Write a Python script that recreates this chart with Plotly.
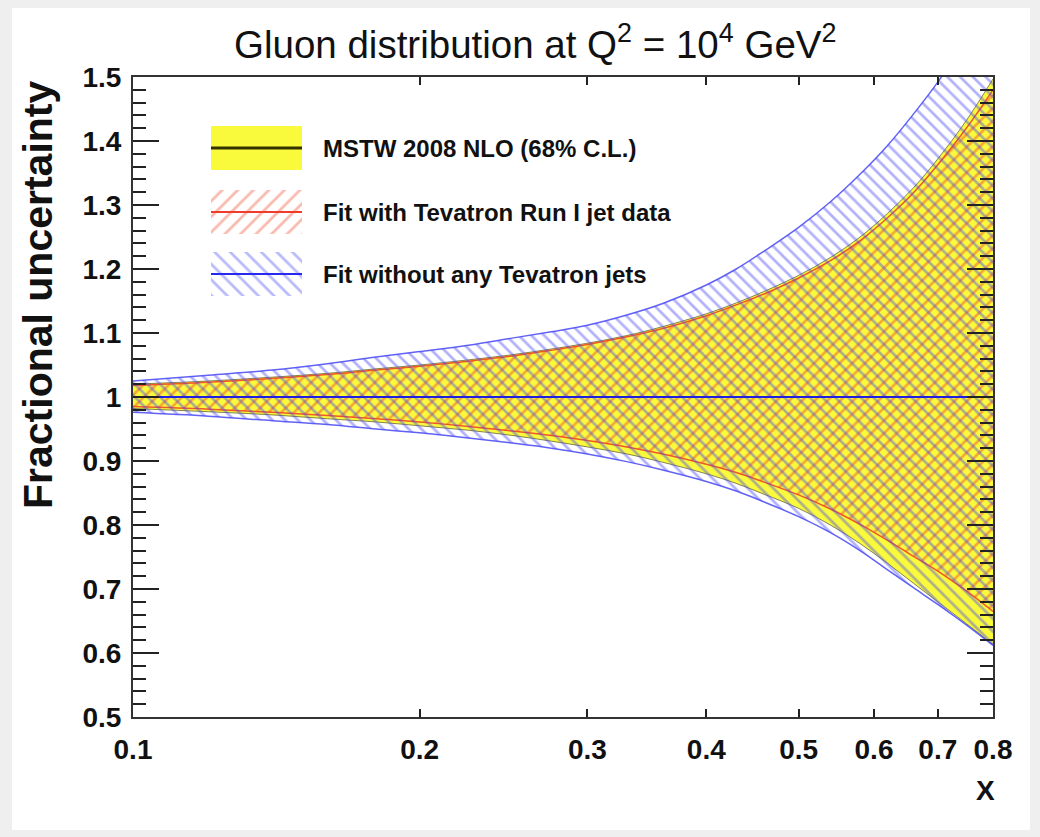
import plotly.graph_objects as go

# ---------------- data ----------------
x_vals = [0.10, 0.12, 0.14, 0.16, 0.18, 0.20, 0.225, 0.25, 0.275, 0.30, 0.33, 0.36,
          0.40, 0.43, 0.46, 0.50, 0.54, 0.58, 0.62, 0.66, 0.70, 0.75, 0.80]

mstw_upper = [1.020, 1.025, 1.031, 1.037, 1.044, 1.050, 1.058, 1.066, 1.075, 1.084, 1.096, 1.110,
              1.130, 1.147, 1.165, 1.190, 1.218, 1.250, 1.287, 1.327, 1.372, 1.432, 1.497]
mstw_lower = [0.982, 0.977, 0.972, 0.966, 0.961, 0.955, 0.948, 0.940, 0.931, 0.922, 0.911, 0.898,
              0.880, 0.865, 0.848, 0.826, 0.800, 0.771, 0.740, 0.709, 0.680, 0.646, 0.613]
mstw_central = [1.0, 1.0, 1.0, 1.0, 1.0, 1.0, 1.0, 1.0, 1.0, 1.0, 1.0, 1.0,
                1.0, 1.0, 1.0, 1.0, 1.0, 1.0, 1.0, 1.0, 1.0, 1.0, 1.0]

run1_upper = [1.018, 1.023, 1.029, 1.035, 1.042, 1.048, 1.056, 1.064, 1.073, 1.082, 1.094, 1.107,
              1.127, 1.144, 1.161, 1.186, 1.213, 1.244, 1.280, 1.319, 1.363, 1.420, 1.480]
run1_lower = [0.985, 0.981, 0.976, 0.971, 0.966, 0.961, 0.954, 0.947, 0.940, 0.932, 0.922, 0.911,
              0.895, 0.882, 0.867, 0.847, 0.825, 0.801, 0.776, 0.751, 0.728, 0.697, 0.665]
run1_central = [1.0, 1.0, 1.0, 1.0, 1.0, 1.0, 1.0, 1.0, 1.0, 1.0, 1.0, 1.0,
                1.0, 1.0, 1.0, 1.0, 1.0, 1.0, 1.0, 1.0, 1.0, 1.0, 1.0]

notev_upper = [1.025, 1.034, 1.042, 1.052, 1.0625, 1.071, 1.081, 1.092, 1.102, 1.112, 1.128, 1.146,
               1.175, 1.200, 1.228, 1.265, 1.305, 1.348, 1.393, 1.442, 1.492, 1.558, 1.628]
notev_lower = [0.976, 0.970, 0.963, 0.957, 0.950, 0.944, 0.936, 0.928, 0.920, 0.911, 0.899, 0.886,
               0.868, 0.853, 0.836, 0.813, 0.788, 0.760, 0.730, 0.702, 0.676, 0.644, 0.612]
notev_central = [1.0, 1.0, 1.0, 1.0, 1.0, 1.0, 1.0, 1.0, 1.0, 1.0, 1.0, 1.0,
                 1.0, 1.0, 1.0, 1.0, 1.0, 1.0, 1.0, 1.0, 1.0, 1.0, 1.0]

x_tick_vals = [0.1, 0.2, 0.3, 0.4, 0.5, 0.6, 0.7, 0.8]
x_tick_text = ["0.1", "0.2", "0.3", "0.4", "0.5", "0.6", "0.7", "0.8"]
y_tick_vals = [0.5, 0.6, 0.7, 0.8, 0.9, 1.0, 1.1, 1.2, 1.3, 1.4, 1.5]
y_tick_text = ["0.5", "0.6", "0.7", "0.8", "0.9", "1", "1.1", "1.2", "1.3", "1.4", "1.5"]

legend_labels = ["MSTW 2008 NLO (68% C.L.)", "Fit with Tevatron Run I jet data", "Fit without any Tevatron jets"]

# ---------------- styling ----------------
W, H = 1040, 837
L, R, T, B = 133, 993, 77, 717  # plot area in pixels
YELLOW = "#fafa3c"
RED = "rgba(240,70,40,0.9)"
BLUE = "rgba(70,70,245,0.85)"
FONT = "Liberation Sans"

fig = go.Figure()

# MSTW yellow band
fig.add_trace(go.Scatter(x=x_vals, y=mstw_lower, mode="lines", line_shape="spline",
                         line=dict(color="rgba(80,80,40,0.7)", width=1), showlegend=False, hoverinfo="skip"))
fig.add_trace(go.Scatter(x=x_vals, y=mstw_upper, mode="lines", fill="tonexty", fillcolor=YELLOW, line_shape="spline",
                         line=dict(color="rgba(80,80,40,0.7)", width=1), showlegend=False, hoverinfo="skip"))
fig.add_trace(go.Scatter(x=x_vals, y=mstw_central, mode="lines",
                         line=dict(color="#222200", width=2), showlegend=False, hoverinfo="skip"))

# Run I red hatched band
fig.add_trace(go.Scatter(x=x_vals, y=run1_lower, mode="lines", line_shape="spline",
                         line=dict(color=RED, width=1.5), showlegend=False, hoverinfo="skip"))
fig.add_trace(go.Scatter(x=x_vals, y=run1_upper, mode="lines", fill="tonexty", line_shape="spline",
                         fillcolor="rgba(0,0,0,0)",
                         fillpattern=dict(shape="/", fgcolor=RED, bgcolor="rgba(0,0,0,0)",
                                          size=9, solidity=0.3, fillmode="overlay"),
                         line=dict(color=RED, width=1.5), showlegend=False, hoverinfo="skip"))
fig.add_trace(go.Scatter(x=x_vals, y=run1_central, mode="lines",
                         line=dict(color=RED, width=2), showlegend=False, hoverinfo="skip"))

# No-Tevatron blue hatched band
fig.add_trace(go.Scatter(x=x_vals, y=notev_lower, mode="lines", line_shape="spline",
                         line=dict(color=BLUE, width=1.5), showlegend=False, hoverinfo="skip"))
fig.add_trace(go.Scatter(x=x_vals, y=notev_upper, mode="lines", fill="tonexty", line_shape="spline",
                         fillcolor="rgba(0,0,0,0)",
                         fillpattern=dict(shape="\\", fgcolor=BLUE, bgcolor="rgba(0,0,0,0)",
                                          size=9, solidity=0.3, fillmode="overlay"),
                         line=dict(color=BLUE, width=1.5), showlegend=False, hoverinfo="skip"))
fig.add_trace(go.Scatter(x=x_vals, y=notev_central, mode="lines",
                         line=dict(color="#2020e0", width=2), showlegend=False, hoverinfo="skip"))

# ---------------- legend (drawn on a pixel-coordinate overlay axis) ----------------
box_x0, box_x1 = 211, 302
rows = [(126, 170), (190, 234), (252, 296)]
styles = [
    dict(fill=YELLOW, pattern=None, line="#333300"),
    dict(fill="rgba(0,0,0,0)", pattern=dict(shape="/", fgcolor="rgba(240,70,40,0.75)", bgcolor="rgba(0,0,0,0)",
                                            size=11, solidity=0.25, fillmode="overlay"), line="#f03c28"),
    dict(fill="rgba(0,0,0,0)", pattern=dict(shape="\\", fgcolor="rgba(70,70,245,0.75)", bgcolor="rgba(0,0,0,0)",
                                            size=11, solidity=0.25, fillmode="overlay"), line="#2828f0"),
]
for (y0, y1), st, lab in zip(rows, styles, legend_labels):
    kw = dict(x=[box_x0, box_x1, box_x1, box_x0, box_x0], y=[y0, y0, y1, y1, y0],
              mode="lines", fill="toself", fillcolor=st["fill"], line=dict(width=0),
              xaxis="x2", yaxis="y2", showlegend=False, hoverinfo="skip")
    if st["pattern"] is not None:
        kw["fillpattern"] = st["pattern"]
    fig.add_trace(go.Scatter(**kw))
    ym = (y0 + y1) / 2
    fig.add_trace(go.Scatter(x=[box_x0, box_x1], y=[ym, ym], mode="lines",
                             line=dict(color=st["line"], width=3 if st["pattern"] is None else 2),
                             xaxis="x2", yaxis="y2", showlegend=False, hoverinfo="skip"))
    fig.add_annotation(x=321, y=ym, xref="x2", yref="y2", text=lab, showarrow=False,
                       xanchor="left", yanchor="middle",
                       font=dict(family=FONT, size=24, color="#111111", weight="bold"))


def px(xp):
    return (xp - L) / (R - L)


def py(yp):
    return (B - yp) / (B - T)


# title and axis titles
fig.add_annotation(x=px(535), y=py(42), xref="paper", yref="paper",
                   text="Gluon distribution at Q<sup>2</sup> = 10<sup>4</sup> GeV<sup>2</sup>",
                   showarrow=False, xanchor="center", yanchor="middle",
                   font=dict(family=FONT, size=38.5, color="#111111"))
fig.add_annotation(x=px(38), y=py(295), xref="paper", yref="paper", text="Fractional uncertainty",
                   textangle=-90, showarrow=False, xanchor="center", yanchor="middle",
                   font=dict(family=FONT, size=41, color="#111111", weight="bold"))
fig.add_annotation(x=px(985), y=py(790), xref="paper", yref="paper", text="X",
                   showarrow=False, xanchor="center", yanchor="middle",
                   font=dict(family=FONT, size=28, color="#111111", weight="bold"))

# page border (light grey surround)
fig.add_shape(type="rect", xref="paper", yref="paper", x0=px(12), x1=px(1030), y0=py(8), y1=py(830),
              fillcolor="white", line=dict(width=0), layer="below")

tickfont = dict(family=FONT, size=28, color="#111111", weight="bold")
fig.update_layout(
    width=W, height=H,
    margin=dict(l=L, r=W - R, t=T, b=H - B, pad=0),
    paper_bgcolor="#efefef", plot_bgcolor="rgba(0,0,0,0)",
    xaxis=dict(type="log", range=[-1, -0.09691], tickvals=x_tick_vals, ticktext=x_tick_text,
               ticks="inside", ticklen=8, tickwidth=1.5, tickcolor="#222222",
               showline=True, linecolor="#333333", linewidth=2, mirror="ticks",
               showgrid=False, zeroline=False, tickfont=tickfont, ticklabelstandoff=6),
    yaxis=dict(range=[0.5, 1.5], tickvals=y_tick_vals, ticktext=y_tick_text,
               ticks="inside", ticklen=26, tickwidth=1.5, tickcolor="#222222",
               minor=dict(dtick=0.02, tick0=0.5, ticks="inside", ticklen=13, tickwidth=1.5, tickcolor="#222222"),
               showline=True, linecolor="#333333", linewidth=2, mirror="ticks",
               showgrid=False, zeroline=False, tickfont=tickfont, ticklabelstandoff=4),
    xaxis2=dict(range=[L, R], overlaying="x", visible=False, fixedrange=True),
    yaxis2=dict(range=[B, T], overlaying="y", visible=False, fixedrange=True),
)

fig.write_html("out.html", config={"displayModeBar": False},
               post_script="document.body.style.margin='0px';")
